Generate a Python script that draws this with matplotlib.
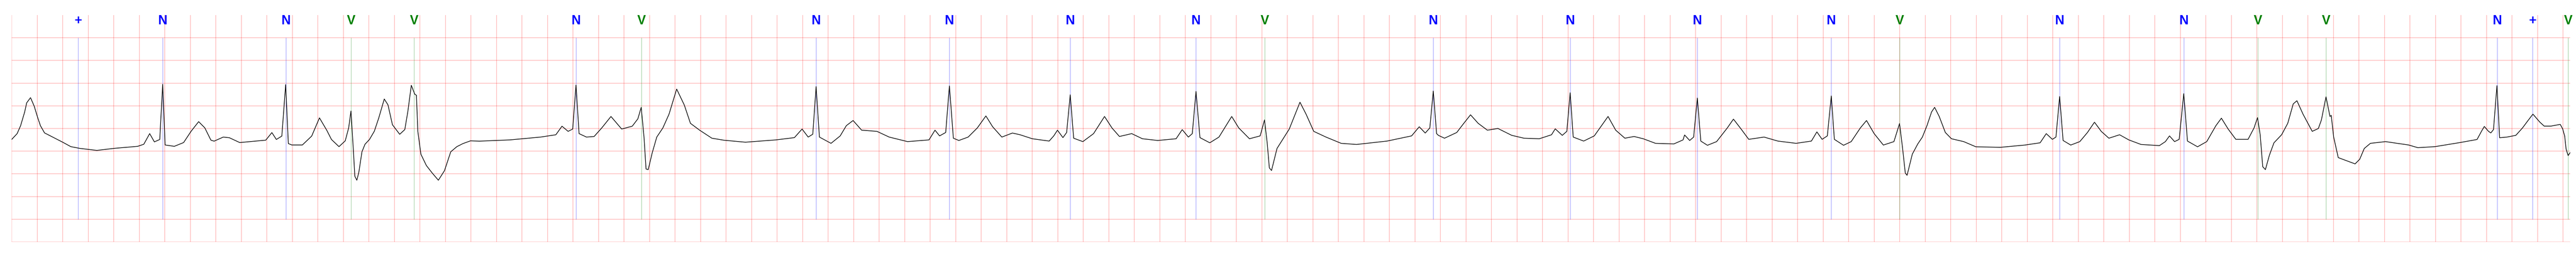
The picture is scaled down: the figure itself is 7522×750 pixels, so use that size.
import numpy as np
import matplotlib
matplotlib.use("Agg")
from matplotlib import pyplot as plt

# ECG trace: time in s, amplitude in mV
ecg_time = [
    0.000, 0.043, 0.070, 0.102, 0.118, 0.148, 0.177, 0.204, 0.226, 0.258,
    0.285, 0.400, 0.464, 0.534, 0.668, 0.803, 0.988, 1.036, 1.082, 1.119,
    1.161, 1.184, 1.203, 1.275, 1.348, 1.407, 1.466, 1.514, 1.562, 1.587,
    1.659, 1.707, 1.788,
    1.992, 2.040, 2.075, 2.118, 2.148, 2.169, 2.196, 2.279, 2.352, 2.413,
    2.470, 2.507, 2.566, 2.615, 2.642, 2.660, 2.682, 2.690, 2.706, 2.722,
    2.746, 2.770, 2.805, 2.843, 2.878, 2.921, 2.950, 2.985, 3.042, 3.082,
    3.106, 3.133, 3.160, 3.173, 3.184, 3.208, 3.251, 3.297, 3.345, 3.393,
    3.442, 3.490, 3.538, 3.597, 3.667,
    3.907, 4.146, 4.266, 4.314, 4.362, 4.398, 4.424, 4.448, 4.506, 4.566,
    4.626, 4.698, 4.782, 4.865, 4.909, 4.935, 4.957, 4.973, 4.990, 5.021,
    5.057, 5.105, 5.153, 5.213, 5.273, 5.321, 5.393, 5.489, 5.585, 5.752,
    5.992, 6.136, 6.196, 6.244, 6.280, 6.306, 6.332, 6.423, 6.495, 6.543,
    6.596, 6.663, 6.783, 6.879, 7.023, 7.191, 7.238, 7.274, 7.322, 7.351,
    7.382, 7.425,
    7.498, 7.570, 7.637, 7.690, 7.762, 7.845, 7.905, 8.001, 8.133, 8.169,
    8.198, 8.241, 8.270, 8.298, 8.325, 8.397, 8.481, 8.567, 8.625, 8.684,
    8.780, 8.864, 8.984, 9.128, 9.176, 9.224, 9.255, 9.284, 9.315, 9.392,
    9.464, 9.564, 9.619, 9.703, 9.787, 9.821, 9.842, 9.859, 9.876, 9.919,
    9.967, 10.015, 10.099, 10.147, 10.207, 10.303, 10.422, 10.542, 10.782, 10.974,
    11.034, 11.081, 11.117, 11.144, 11.170, 11.184,
    11.232, 11.328, 11.376, 11.436, 11.496, 11.568, 11.651, 11.759, 11.855, 11.975,
    12.071, 12.100, 12.155, 12.191, 12.217, 12.241, 12.323, 12.406, 12.514, 12.574,
    12.646, 12.718, 12.790, 12.886, 13.030, 13.102, 13.114, 13.154, 13.185, 13.214,
    13.241, 13.293, 13.365, 13.449, 13.497, 13.557, 13.617, 13.737, 13.845, 13.988,
    14.108, 14.151, 14.192, 14.233, 14.264, 14.288, 14.360, 14.420, 14.492, 14.540,
    14.600, 14.672, 14.755, 14.799, 14.823, 14.844, 14.858, 14.899, 14.942,
    14.978, 15.014, 15.050, 15.074, 15.110, 15.158, 15.206, 15.302, 15.397, 15.589,
    15.781, 15.901, 15.949, 15.997, 16.025, 16.054, 16.081, 16.141, 16.212, 16.272,
    16.327, 16.380, 16.440, 16.524, 16.596, 16.692, 16.836, 16.883, 16.915, 16.955,
    16.991, 17.027, 17.056, 17.135, 17.207, 17.279, 17.322, 17.375, 17.435, 17.531,
    17.578, 17.605, 17.626, 17.646, 17.667, 17.698, 17.734, 17.794, 17.842, 17.885,
    17.914, 17.962, 18.034, 18.082, 18.106, 18.142, 18.173, 18.183, 18.202, 18.238,
    18.298, 18.370, 18.406, 18.442, 18.490, 18.609, 18.700,
    18.789, 18.862, 18.996, 19.192, 19.326, 19.361, 19.383, 19.415, 19.434, 19.455,
    19.482, 19.503, 19.560, 19.630, 19.683, 19.721, 19.764, 19.817, 19.852, 19.906,
    19.978, 19.997, 20.013, 20.024, 20.040, 20.056,
]
ecg_mv = [
    -0.742, -0.613, -0.440, -0.137, 0.066, 0.180, -0.009, -0.258, -0.440, -0.598,
    -0.636, -0.802, -0.900, -0.938, -0.983, -0.938, -0.893, -0.847, -0.613, -0.795,
    -0.742, 0.474, -0.863, -0.893, -0.810, -0.560, -0.349, -0.485, -0.757, -0.779,
    -0.689, -0.704, -0.810,
    -0.757, -0.590, -0.742, -0.667, 0.467, -0.832, -0.863, -0.863, -0.667, -0.266,
    -0.538, -0.742, -0.900, -0.772, -0.485, -0.115, -1.134, -1.550, -1.640, -1.459,
    -1.014, -0.847, -0.742, -0.560, -0.266, 0.150, 0.021, -0.417, -0.628, -0.523,
    -0.122, 0.452, 0.255, 0.233, -0.560, -1.066, -1.316, -1.482, -1.640, -1.429,
    -1.014, -0.900, -0.832, -0.772, -0.779,
    -0.751, -0.689, -0.638, -0.449, -0.563, -0.512, 0.457, -0.613, -0.689, -0.676,
    -0.487, -0.235, -0.512, -0.449, -0.286, -0.034, -0.689, -1.393, -1.406, -1.041,
    -0.689, -0.487, -0.185, 0.369, 0.016, -0.386, -0.537, -0.714, -0.759, -0.802,
    -0.751, -0.701, -0.512, -0.689, -0.626, 0.424, -0.689, -0.827, -0.663, -0.437,
    -0.324, -0.537, -0.563, -0.689, -0.789, -0.751, -0.537, -0.663, -0.588, 0.439,
    -0.714, -0.764,
    -0.689, -0.487, -0.223, -0.462, -0.689, -0.600, -0.638, -0.726, -0.777, -0.663,
    -0.537, -0.701, -0.588, 0.243, -0.714, -0.789, -0.613, -0.235, -0.487, -0.676,
    -0.613, -0.726, -0.764, -0.726, -0.525, -0.689, -0.613, 0.318, -0.701, -0.815,
    -0.689, -0.235, -0.487, -0.726, -0.663, -0.311, -0.815, -1.368, -1.426, -0.940,
    -0.726, -0.512, 0.079, -0.185, -0.563, -0.689, -0.827, -0.852, -0.777, -0.663,
    -0.462, -0.600, -0.487, 0.326, -0.613, -0.651,
    -0.714, -0.588, -0.412, -0.198, -0.386, -0.537, -0.500, -0.651, -0.714, -0.726,
    -0.638, -0.507, -0.651, -0.563, 0.288, -0.689, -0.777, -0.663, -0.235, -0.537,
    -0.714, -0.676, -0.726, -0.827, -0.840, -0.751, -0.643, -0.764, -0.689, 0.172,
    -0.777, -0.870, -0.789, -0.487, -0.293, -0.512, -0.739, -0.689, -0.777, -0.827,
    -0.777, -0.575, -0.739, -0.663, 0.218, -0.739, -0.870, -0.789, -0.487, -0.324,
    -0.613, -0.865, -0.789, -0.391, -0.940, -1.482, -1.532, -1.066, -0.840,
    -0.689, -0.437, -0.135, -0.034, -0.235, -0.588, -0.726, -0.789, -0.903, -0.915,
    -0.865, -0.815, -0.613, -0.739, -0.689, 0.205, -0.764, -0.865, -0.789, -0.588,
    -0.361, -0.563, -0.714, -0.638, -0.751, -0.852, -0.877, -0.789, -0.663, -0.789,
    -0.739, 0.268, -0.777, -0.903, -0.789, -0.437, -0.273, -0.512, -0.739, -0.739,
    -0.487, -0.261, -0.638, -1.343, -1.406, -1.091, -0.815, -0.638, -0.386, 0.042,
    0.112, -0.185, -0.563, -0.500, -0.311, 0.198, -0.235, -0.210, -0.689, -1.142,
    -1.205, -1.280, -1.179, -0.940, -0.827, -0.789, -0.827,
    -0.863, -0.923, -0.900, -0.810, -0.742, -0.560, -0.455, -0.560, -0.598, -0.523,
    0.444, -0.704, -0.689, -0.651, -0.485, -0.341, -0.183, -0.356, -0.447, -0.447,
    -0.409, -0.508, -0.667, -0.953, -1.097, -1.029,
]

# beat annotations (time in s, symbol)
ann_time = [
    0.521, 1.184, 2.150, 2.660, 3.154, 4.424, 4.937, 6.306, 7.351, 8.298,
    9.283, 9.823, 11.144, 12.217, 13.214, 14.263, 14.800, 16.054, 17.028, 17.608,
    18.142, 19.485, 19.761, 20.040,
]
ann_symbol = [
    "+", "N", "N", "V", "V", "N", "V", "N", "N", "N",
    "N", "V", "N", "N", "N", "N", "V", "N", "N", "V",
    "V", "N", "+", "V",
]
ann_color = {"N": "blue", "+": "blue", "V": "green"}

# create figure sized to the strip
fig = plt.figure(figsize=(75.22, 7.5), dpi=100)
ax = fig.add_axes([34 / 7522, 44 / 750, (7505 - 34) / 7522, 662 / 750])

# ecg paper grid: 0.2 s by 0.5 mV
ax.set_xlim(0, 20.056)
ax.set_ylim(-3.0, 2.0)
ax.set_xticks(np.arange(0, 20.01, 0.2))
ax.set_yticks(np.arange(-3.0, 1.51, 0.5))
ax.grid(True, color="red", alpha=0.25, linewidth=1.5)
ax.set_axisbelow(True)
ax.tick_params(length=0, labelbottom=False, labelleft=False)
for spine in ax.spines.values():
    spine.set_visible(False)

# annotation markers
for t, sym in zip(ann_time, ann_symbol):
    ax.vlines(t, -2.5, 1.5, color=ann_color[sym], alpha=0.5, linewidth=0.8, zorder=2)
    ax.text(
        t, 1.796, sym,
        color=ann_color[sym], fontsize=27, fontweight="bold",
        family=["Liberation Sans", "DejaVu Sans"],
        ha="center", va="baseline", zorder=4, clip_on=False,
    )

# ecg signal
ax.plot(ecg_time, ecg_mv, color="black", linewidth=1.4, zorder=3)

fig.savefig("out.png", dpi=100)
